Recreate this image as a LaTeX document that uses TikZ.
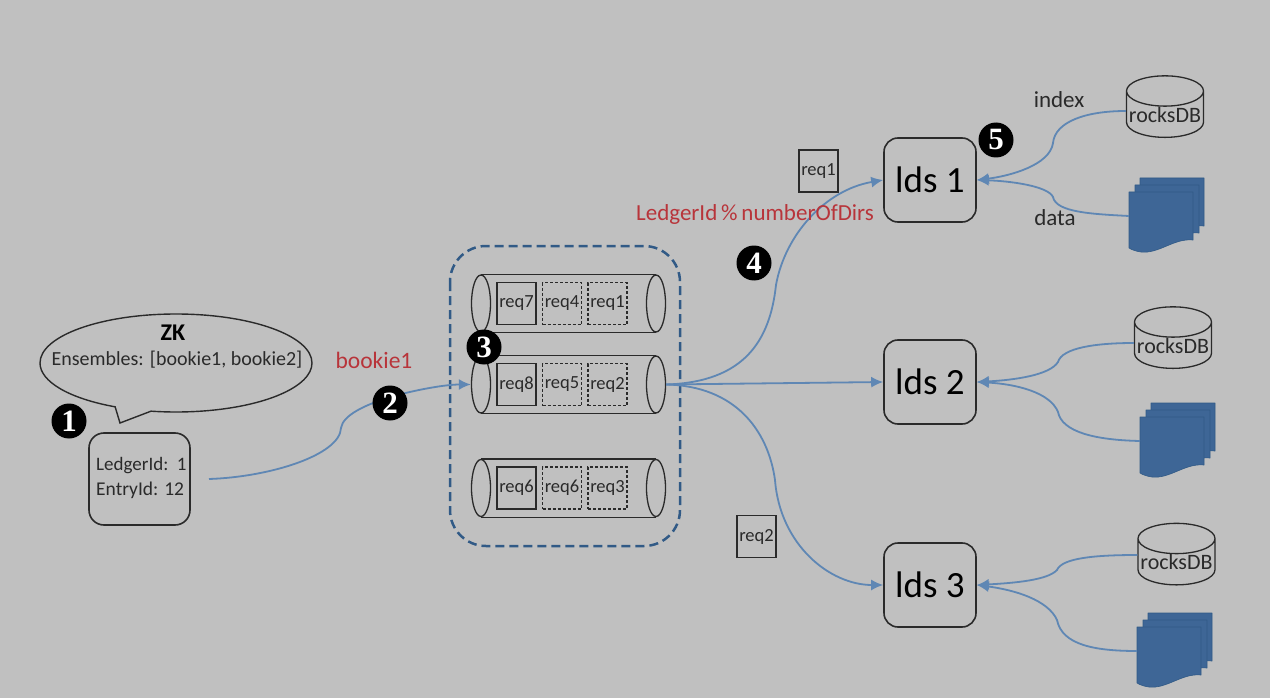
\documentclass[tikz,border=0pt]{standalone}
\usepackage{fontspec}
\setmainfont{Carlito}
\newfontfamily\numfont{Liberation Serif}
\usetikzlibrary{arrows.meta,shapes.geometric,shapes.callouts}
\definecolor{bggray}{HTML}{C0C0C0}
\definecolor{inkgray}{HTML}{2A2A2A}
\definecolor{linkblue}{HTML}{5F87B4}
\definecolor{deepblue}{HTML}{3E6696}
\definecolor{dashblue}{HTML}{315A86}
\definecolor{notered}{HTML}{B8343A}
\tikzset{
	idsbox/.style={draw=inkgray,line width=1.6pt,rounded corners=14pt,minimum width=92pt,minimum height=84pt,inner sep=0pt,font=\fontsize{37}{37}\selectfont,text=black},
	reqbox/.style={draw=inkgray,line width=1.5pt,minimum width=39pt,minimum height=42pt,inner sep=0pt,font=\fontsize{18.5}{18.5}\selectfont,text=inkgray},
	reqdash/.style={reqbox,line width=1.2pt,densely dashed},
	pipeend/.style={ellipse,draw=inkgray,line width=1.3pt,minimum width=19pt,minimum height=57pt,inner sep=0pt},
	dbnode/.style={cylinder,shape border rotate=90,shape aspect=.42,draw=inkgray,line width=1.3pt,minimum width=77pt,minimum height=60pt,inner sep=0pt,font=\fontsize{22}{22}\selectfont,text=inkgray},
	numdot/.style={circle,fill=black,text=white,minimum size=35pt,inner sep=0pt,font=\numfont\bfseries\fontsize{31}{31}\selectfont},
	plain/.style={inner sep=0pt,font=\fontsize{23}{23}\selectfont,text=inkgray},
	redtext/.style={inner sep=0pt,text=notered},
	link/.style={draw=linkblue,line width=1.8pt},
	linkto/.style={link,-{Latex[length=12pt,width=11pt]}}
}
\begin{document}
\begin{tikzpicture}[x=1pt,y=-1pt]
	\fill[bggray] (0,0) rectangle (1270,698);
	% ZK
	\node[ellipse callout,draw=inkgray,line width=1.4pt,minimum width=272pt,minimum height=98pt,inner sep=0pt,callout absolute pointer={(120,423)},callout pointer arc=16] (zk) at (176,363){};
	\node[plain,font=\bfseries\fontsize{24}{24}\selectfont,text=black] (zkname) at (173,333){ZK};
	\node[plain,font=\fontsize{20}{20}\selectfont] (ensembles) at (177,360){Ensembles: [bookie1, bookie2]};
	\node[draw=inkgray,line width=1.6pt,rounded corners=15pt,minimum width=101pt,minimum height=92pt] (ledger) at (139.5,479){};
	\node[plain,anchor=west,font=\fontsize{19}{19}\selectfont] (ledgerid) at (96,466){LedgerId:\ \ 1};
	\node[plain,anchor=west,font=\fontsize{19.5}{19.5}\selectfont] (entryid) at (96,490){EntryId: 12};
	\coordinate (start) at (209,479);
	% queues
	\draw[dashblue,line width=2.5pt,dash pattern=on 9pt off 5pt,rounded corners=36pt] (450,246) rectangle (680,546);
	\foreach \n/\y/\ReqA/\ReqB/\ReqC in {a/303.5/req7/req4/req1,b/384.5/req8/req5/req2,c/488/req6/req6/req3}{
		\node[pipeend] (left\n) at (481,\y){};
		\node[pipeend] (right\n) at (656,\y){};
		\draw[inkgray,line width=1.3pt] (left\n.north)--(right\n.north) (left\n.south)--(right\n.south);
		\node[reqbox] (first\n) at (516.5,\y){\ReqA};
		\node[reqdash] (second\n) at (562,\y){\ReqB};
		\node[reqdash] (third\n) at (607.5,\y){\ReqC};
	}
	% lds
	\foreach \n/\y/\m in {a/180/1,b/382/2,c/585/3}
		\node[idsbox] (ids\n) at (930,\y){lds \m};
	\foreach \n/\x/\y in {a/1165/114.5,b/1173/345.5,c/1176.5/562}
		\node[dbnode] (db\n) at (\x,\y){rocksDB};
	% doc stacks
	\foreach \n/\x/\y in {a/1129/178,b/1140/403,c/1137/613}{
		\begin{scope}[shift={(\x,\y)}]
			\foreach \dx/\dy in {11/0,6/7,0/14}
				\filldraw[fill=deepblue,draw=dashblue,line width=.6pt,line join=round,shift={(\dx,\dy)}] (0,0)--(64,0)--(64,48) .. controls (45,46) and (30,62) .. (12,60) .. controls (8,59.5) and (3,58) .. (0,56)--cycle;
			\coordinate (doc\n) at (0,38);
		\end{scope}
	}
	% links
	\draw[link] (start) .. controls (270,477) and (340,455) .. (341,428) .. controls (343,415) and (365,405) .. (390,397);
	\draw[linkto] (390,397) .. controls (415,390) and (445,384.5) .. (leftb.west);
	\draw[linkto] (rightb.east) .. controls (745,382) and (770,340) .. (776,285) .. controls (785,235) and (825,190) .. (idsa.west);
	\draw[linkto] (rightb.east)--(idsb.west);
	\draw[linkto] (rightb.east) .. controls (735,386) and (768,430) .. (775,480) .. controls (780,545) and (830,585) .. (idsc.west);
	\draw[linkto] ([yshift=3.5pt]dba.west) .. controls (1085,111) and (1055,122) .. (1053,143) .. controls (1050,165) and (1010,176) .. (idsa.east);
	\draw[linkto] (doca) .. controls (1090,214) and (1056,212) .. (1053,197) .. controls (1048,186) and (1010,181) .. (idsa.east);
	\draw[linkto] ([yshift=2.5pt]dbb.west) .. controls (1095,343) and (1062,348) .. (1058,362) .. controls (1050,375) and (1015,380) .. (idsb.east);
	\draw[linkto] (docb) .. controls (1095,440) and (1062,432) .. (1058,412) .. controls (1050,392) and (1015,384) .. (idsb.east);
	\draw[linkto] ([yshift=7pt]dbc.west) .. controls (1095,555) and (1062,558) .. (1057,570) .. controls (1048,580) and (1015,583) .. (idsc.east);
	\draw[linkto] (docc) .. controls (1095,651) and (1062,645) .. (1057,620) .. controls (1048,600) and (1015,590) .. (idsc.east);
	% labels
	\node[reqbox] (reqone) at (818.5,171){req1};
	\node[reqbox] (reqtwo) at (756.5,536.5){req2};
	\node[redtext,font=\fontsize{23.5}{23.5}\selectfont] (bookie) at (374,360){bookie1};
	\node[redtext,font=\fontsize{23}{23}\selectfont] (mod) at (755,214){LedgerId\,\%\,numberOfDirs};
	\node[plain] (index) at (1059,100){index};
	\node[plain] (data) at (1055,218){data};
	\foreach \n/\x/\y/\m in {one/69/421/1,two/390/403/2,three/484/347/3,four/754/263/4,five/996/140/5}
		\node[numdot] (num\n) at (\x,\y){\m};
\end{tikzpicture}
\end{document}
